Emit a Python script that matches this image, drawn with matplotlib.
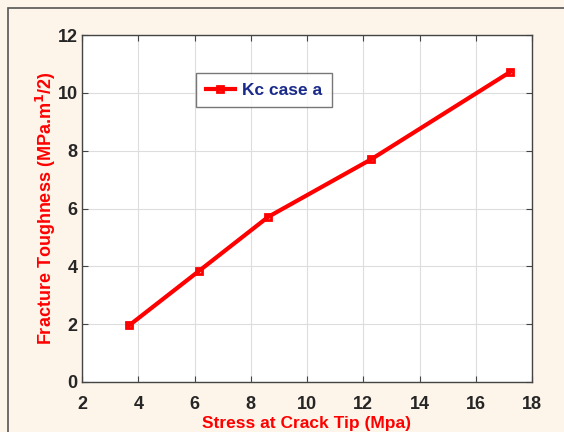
import matplotlib
matplotlib.use("Agg")
import matplotlib.pyplot as plt
from matplotlib.patches import Rectangle

stress = [3.68, 6.16, 8.62, 12.28, 17.22]
kc = [1.96, 3.84, 5.71, 7.70, 10.72]
xticks = [2, 4, 6, 8, 10, 12, 14, 16, 18]
yticks = [0, 2, 4, 6, 8, 10, 12]

plt.rcParams['font.family'] = ['Liberation Sans', 'DejaVu Sans']
W, H = 564, 432
fig = plt.figure(figsize=(W/100, H/100), dpi=100, facecolor='#fdf5ea')
fig.patches.append(Rectangle((8/W, -0.1), 1.2, 1 - 8/H + 0.1, transform=fig.transFigure,
                             fill=False, edgecolor='#555555', linewidth=1.2))
ax = fig.add_axes([82/W, 1 - 382/H, (532-82)/W, (382-35)/H])
ax.set_facecolor('white')
ax.plot(stress, kc, color='#ff0000', linewidth=3, marker='s', markersize=4.5,
        markerfacecolor='none', markeredgewidth=2, label='Kc case a')
ax.set_xlim(2, 18)
ax.set_ylim(0, 12)
ax.set_xticks(xticks)
ax.set_yticks(yticks)
ax.grid(True, color='#dddddd', linewidth=0.8)
ax.tick_params(direction='in', length=4, width=0.8, color='#444444', labelsize=13,
               labelcolor='#262626', top=True, right=True)
ax.tick_params(axis='x', pad=10)
ax.tick_params(axis='y', pad=3)
for lbl in ax.get_xticklabels() + ax.get_yticklabels():
    lbl.set_fontweight('bold')
for s in ax.spines.values():
    s.set_color('#444444')
    s.set_linewidth(1.0)
ax.set_xlabel('Stress at Crack Tip (Mpa)', color='#ff0000', fontsize=12.5, fontweight='bold', labelpad=2)
ax.set_ylabel('Fracture Toughness (MPa.m$^{\\mathbf{1}}$/2)', color='#ff0000', fontsize=13,
              fontweight='bold', labelpad=0)
leg = ax.legend(loc='upper left', bbox_to_anchor=((196-82)/(532-82), 1 - (73-35)/(382-35)),
                frameon=True, fancybox=False, edgecolor='#555555', fontsize=12.5,
                handlelength=1.7, borderpad=0.55, handletextpad=0.4, borderaxespad=0)
leg.get_frame().set_linewidth(1.0)
for t in leg.get_texts():
    t.set_color('#1a2a8a')
    t.set_fontweight('bold')
fig.savefig('out.png', dpi=100, facecolor=fig.get_facecolor())
